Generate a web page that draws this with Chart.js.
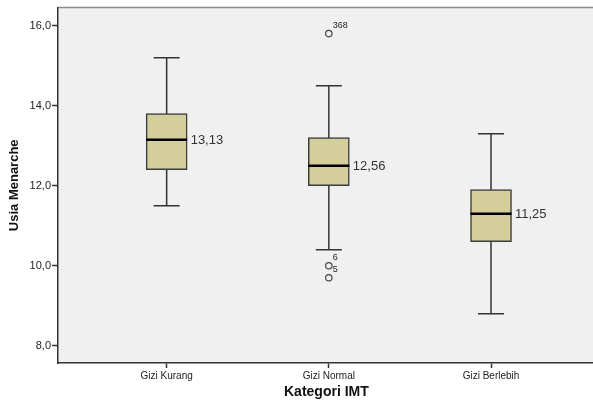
<!DOCTYPE html>
<html>
<head>
<meta charset="utf-8">
<script src="https://cdn.jsdelivr.net/npm/chart.js@4/dist/chart.umd.min.js"></script>
<style>
  html, body { margin: 0; padding: 0; background: #fff; overflow: hidden; }
  #wrap { width: 600px; height: 401px; }
</style>
</head>
<body>
<div id="wrap"><canvas id="box_chart" width="600" height="401"></canvas></div>
<script>
// data
var categories = ['Gizi Kurang', 'Gizi Normal', 'Gizi Berlebih'];
var catPos = [1, 2, 3];
var whiskerLow = [11.5, 10.4, 8.8];
var q1 = [12.4, 12.0, 10.6];
var medians = [13.15, 12.5, 11.3];
var q3 = [13.8, 13.2, 11.9];
var whiskerHigh = [15.2, 14.5, 13.3];
var boxLabels = [13.13, 12.56, 11.25];
var outlierCat = [2, 2, 2];
var outlierValues = [15.8, 10.0, 9.7];
var outlierIds = ['368', '6', '5'];
var yTicks = [8, 10, 12, 14, 16];

var FONT = 'Arial, "Liberation Sans", sans-serif';

function comma(v, d) { return v.toFixed(d).replace('.', ','); }

var boxPlugin = {
    id: 'boxParts',
    beforeDraw: function (chart) {
        var ctx = chart.ctx, a = chart.chartArea;
        ctx.save();
        ctx.fillStyle = '#f0f0f0';
        ctx.fillRect(a.left, a.top, a.right - a.left, a.bottom - a.top);
        ctx.strokeStyle = '#8c8c8c';
        ctx.lineWidth = 1.5;
        ctx.beginPath();
        ctx.moveTo(a.left, a.top);
        ctx.lineTo(a.right, a.top);
        ctx.stroke();
        ctx.restore();
    },
    beforeDatasetsDraw: function (chart) {
        var ctx = chart.ctx, xs = chart.scales.x, ys = chart.scales.y;
        ctx.save();
        ctx.strokeStyle = '#333';
        ctx.lineWidth = 1.5;
        catPos.forEach(function (c, i) {
            var x = xs.getPixelForValue(c);
            ctx.beginPath();
            ctx.moveTo(x, ys.getPixelForValue(whiskerLow[i]));
            ctx.lineTo(x, ys.getPixelForValue(whiskerHigh[i]));
            [whiskerLow[i], whiskerHigh[i]].forEach(function (v) {
                var y = ys.getPixelForValue(v);
                ctx.moveTo(x - 13, y);
                ctx.lineTo(x + 13, y);
            });
            ctx.stroke();
        });
        ctx.restore();
    },
    afterDatasetsDraw: function (chart) {
        var ctx = chart.ctx, xs = chart.scales.x, ys = chart.scales.y;
        ctx.save();
        catPos.forEach(function (c, i) {
            var x = xs.getPixelForValue(c);
            var y = ys.getPixelForValue(medians[i]);
            ctx.strokeStyle = '#000';
            ctx.lineWidth = 2.5;
            ctx.beginPath();
            ctx.moveTo(x - 20.5, y);
            ctx.lineTo(x + 20.5, y);
            ctx.stroke();
            ctx.fillStyle = '#333';
            ctx.font = '13px ' + FONT;
            ctx.textBaseline = 'middle';
            ctx.textAlign = 'left';
            ctx.fillText(comma(boxLabels[i], 2), x + 24, y + 1);
        });
        ctx.font = '9px ' + FONT;
        ctx.fillStyle = '#222';
        ctx.textBaseline = 'middle';
        outlierIds.forEach(function (id, i) {
            var x = xs.getPixelForValue(outlierCat[i]);
            var y = ys.getPixelForValue(outlierValues[i]);
            ctx.fillText(id, x + 4, y - 8);
        });
        ctx.restore();
    }
};

var ctxBox = document.getElementById('box_chart').getContext('2d');
var boxChart = new Chart(ctxBox, {
    type: 'bar',
    data: {
        datasets: [{
            type: 'bar',
            data: catPos.map(function (c, i) { return { x: c, y: [q1[i], q3[i]] }; }),
            backgroundColor: '#d3ce9a',
            borderColor: '#3c3c3c',
            borderWidth: 1.5,
            borderSkipped: false,
            barThickness: 41
        }, {
            type: 'scatter',
            data: outlierCat.map(function (c, i) { return { x: c, y: outlierValues[i] }; }),
            pointStyle: 'circle',
            pointRadius: 3.2,
            pointBackgroundColor: 'rgba(0,0,0,0)',
            pointBorderColor: '#444',
            pointBorderWidth: 1.2,
            showLine: false
        }]
    },
    options: {
        responsive: false,
        animation: false,
        layout: { padding: { top: 7, right: 1, left: 0, bottom: 0 } },
        plugins: { legend: { display: false }, tooltip: { enabled: false } },
        scales: {
            x: {
                type: 'linear',
                offset: false,
                min: 0.33,
                max: 3.64,
                afterBuildTicks: function (s) { s.ticks = catPos.map(function (v) { return { value: v }; }); },
                afterFit: function (s) { s.height = 38; },
                grid: { offset: false, drawOnChartArea: false, tickLength: 5, color: '#333', tickWidth: 1.5 },
                border: { color: '#333', width: 1.5 },
                ticks: {
                    autoSkip: false,
                    maxRotation: 0,
                    padding: 2,
                    color: '#222',
                    font: { family: FONT, size: 10 },
                    callback: function (v) { return categories[catPos.indexOf(v)]; }
                },
                title: {
                    display: true,
                    text: 'Kategori IMT',
                    color: '#111',
                    font: { family: FONT, size: 14, weight: 'bold' },
                    padding: { top: 0, bottom: 0 }
                }
            },
            y: {
                min: 7.57,
                max: 16.45,
                afterBuildTicks: function (s) { s.ticks = yTicks.map(function (v) { return { value: v }; }); },
                afterFit: function (s) { s.width = 58; },
                grid: { drawOnChartArea: false, tickLength: 6, color: '#333', tickWidth: 1.5 },
                border: { color: '#333', width: 1.5 },
                ticks: {
                    padding: 1,
                    color: '#222',
                    font: { family: FONT, size: 11 },
                    callback: function (v) { return comma(v, 1); }
                },
                title: {
                    display: true,
                    text: 'Usia Menarche',
                    color: '#111',
                    font: { family: FONT, size: 13, weight: 'bold' },
                    padding: { top: 7, bottom: 0 }
                }
            }
        }
    },
    plugins: [boxPlugin]
});
</script>
</body>
</html>
